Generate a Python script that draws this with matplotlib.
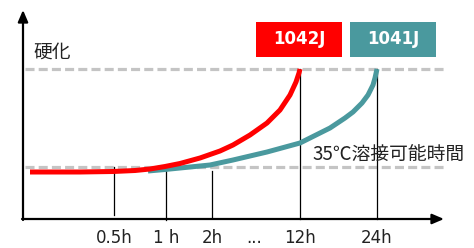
import matplotlib
matplotlib.use("Agg")
import matplotlib.pyplot as plt
from matplotlib.patches import Rectangle

plt.rcParams['font.family'] = ['DejaVu Sans', 'Noto Sans CJK JP']
plt.rcParams['lines.scale_dashes'] = False

# ---- data (arbitrary units: x = visual time position, y = hardness level) ----
tick_labels = ["0.5h", "1 h", "2h", "...", "12h", "24h"]
tick_pos = [91, 143, 189, 231, 277, 354]

level_weldable = 52     # 35℃溶接可能時間 threshold
level_hardened = 150    # 硬化

red_name = "1042J"
red_x = [7, 57, 90, 112, 127, 142, 157, 177, 197, 210, 227, 244, 257, 267, 273, 276, 277]
red_y = [47, 47, 47.5, 48.5, 50, 52.5, 55.5, 61, 68, 74, 84, 96, 109, 124, 137, 146, 150]

teal_name = "1041J"
teal_x = [125, 142, 167, 187, 210, 244, 277, 307, 322, 330, 339, 345, 350, 352, 354]
teal_y = [48, 49.5, 52, 54, 59, 67, 76, 91, 101, 107, 116, 124, 134, 141, 150]

# vertical marker lines: (x, y_bottom, y_top)
vline_x = [91, 143, 189, 277, 354]
vline_bottom = [4, -1, 1, 0, 0]
vline_top = [52, 52, 48, 150, 150]

RED = "#ff0000"
TEAL = "#4a999e"
GRAY = "#c4c4c4"
TXT = "#222222"

W, H = 474, 248
fig = plt.figure(figsize=(W / 100, H / 100), dpi=100)
ax = fig.add_axes([23 / W, (H - 219) / H, 419 / W, 207 / H])
ax.set_xlim(0, 419)
ax.set_ylim(0, 207)
for s in ax.spines.values():
    s.set_visible(False)

# dashed reference lines
for lv in (level_weldable, level_hardened):
    ax.plot([2, 421], [lv, lv], color=GRAY, lw=2.3, dashes=(6.5, 3.0),
            clip_on=False, zorder=1, solid_capstyle='butt', dash_capstyle='butt')

# vertical lines
for x, y0, y1 in zip(vline_x, vline_bottom, vline_top):
    ax.plot([x, x], [y0, y1], color="black", lw=0.9, zorder=2, clip_on=False)

# curves
ax.plot(teal_x, teal_y, color=TEAL, lw=3.6, zorder=3, solid_capstyle='butt',
        solid_joinstyle='round')
ax.plot(red_x, red_y, color=RED, lw=3.6, zorder=4, solid_capstyle='butt',
        solid_joinstyle='round')

# axes with arrows
ax.annotate("", xy=(0, 209), xytext=(0, -1), annotation_clip=False,
            arrowprops=dict(arrowstyle="-|>,head_length=0.7,head_width=0.3",
                            color="black", lw=1.6, shrinkA=0, shrinkB=0))
ax.annotate("", xy=(421, 0), xytext=(-1, 0), annotation_clip=False,
            arrowprops=dict(arrowstyle="-|>,head_length=0.7,head_width=0.3",
                            color="black", lw=1.6, shrinkA=0, shrinkB=0))

# ticks
ax.set_xticks(tick_pos)
ax.set_xticklabels(tick_labels, fontsize=12, color=TXT)
ax.tick_params(axis='x', length=0, pad=7)
ax.set_yticks([])

# texts
ax.text(29, 167, "硬化", fontsize=13.5, color=TXT, ha='center', va='center',
        family=['Noto Sans CJK JP'])
ax.text(366, 64, "35℃溶接可能時間", fontsize=13.5, color=TXT, ha='center', va='center',
        family=['Noto Sans CJK JP'])

# legend boxes
for x0, name, col in ((233, red_name, RED), (327, teal_name, TEAL)):
    ax.add_patch(Rectangle((x0, 162), 86, 35, facecolor=col, edgecolor='none',
                           clip_on=False, zorder=5))
    ax.text(x0 + 43, 179.5, name, fontsize=12, color='white', fontweight='bold',
            ha='center', va='center', zorder=6)

fig.savefig("out.png", dpi=100)
